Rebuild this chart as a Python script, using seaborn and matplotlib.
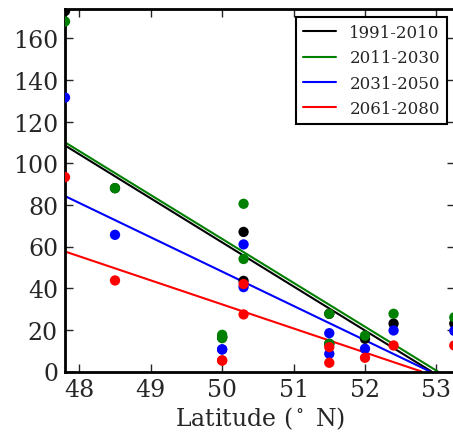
import numpy as np
import pandas as pd
import seaborn as sns
from matplotlib import pyplot as plt

# station latitudes and values per period
periods = ['1991-2010', '2011-2030', '2031-2050', '2061-2080']
colors = ['k', 'g', 'b', 'r']
lats = [47.8, 48.5, 50.0, 50.0, 50.3, 50.3, 51.5, 51.5, 52.0, 52.4, 53.25]
vals_1991 = [173, 88, 16.5, 16.5, 67, 43.5, 27.7, 13.3, 15.7, 23, 23]
vals_2011 = [168, 88, 17.6, 16, 80.5, 54, 27.7, 13.3, 17.2, 27.7, 26]
vals_2031 = [131.5, 65.6, 10.6, 10.6, 61, 40.5, 18.4, 8.5, 10.9, 19.7, 19.5]
vals_2061 = [93.3, 43.7, 5.3, 5.3, 42, 27.4, 11.7, 4.2, 6.6, 12.5, 12.5]

# linear trend lines: value at 47.8 N and latitude where they reach zero
trend_lat0 = 47.8
trend_start = [108.5, 110, 84.2, 57.6]
trend_zero_lat = [52.93, 53.02, 52.91, 52.79]

sns.set_style('ticks')
plt.rcParams['font.family'] = ['DejaVu Serif']
plt.rcParams['mathtext.fontset'] = 'dejavuserif'

pts = pd.DataFrame({
    'lat': lats * 4,
    'value': vals_1991 + vals_2011 + vals_2031 + vals_2061,
    'period': np.repeat(periods, len(lats)),
})
trend = pd.DataFrame({
    'lat': [trend_lat0] * 4 + trend_zero_lat,
    'value': trend_start + [0] * 4,
    'period': periods * 2,
})
pal = dict(zip(periods, colors))

fig = plt.figure(figsize=(4.53, 4.39), dpi=100)
ax = fig.add_axes([65 / 453, 66.5 / 439, 390 / 453, 362.5 / 439])

sns.lineplot(data=trend, x='lat', y='value', hue='period', palette=pal,
             hue_order=periods, lw=1.5, ax=ax, zorder=2)
sns.scatterplot(data=pts, x='lat', y='value', hue='period', palette=pal,
                hue_order=periods, s=55, linewidth=0, legend=False, ax=ax,
                zorder=3)

ax.set_xlim(47.8, 53.26)
ax.set_ylim(0, 174)
ax.set_xticks([48, 49, 50, 51, 52, 53])
ax.set_yticks(range(0, 161, 20))
ax.set_xlabel('Latitude ($^\\circ$ N)', fontsize=17, labelpad=2)
ax.set_ylabel('')
ax.tick_params(direction='in', top=True, right=True, length=6, width=1,
               labelsize=17, pad=5)
for sp in ax.spines.values():
    sp.set_linewidth(2)
    sp.set_color('black')

leg = ax.legend(loc='upper right', fontsize=12, fancybox=False,
                edgecolor='black', framealpha=1, handlelength=2,
                borderaxespad=0.5, title=None)
leg.get_frame().set_linewidth(1.5)

fig.savefig('out.png', dpi=100)
